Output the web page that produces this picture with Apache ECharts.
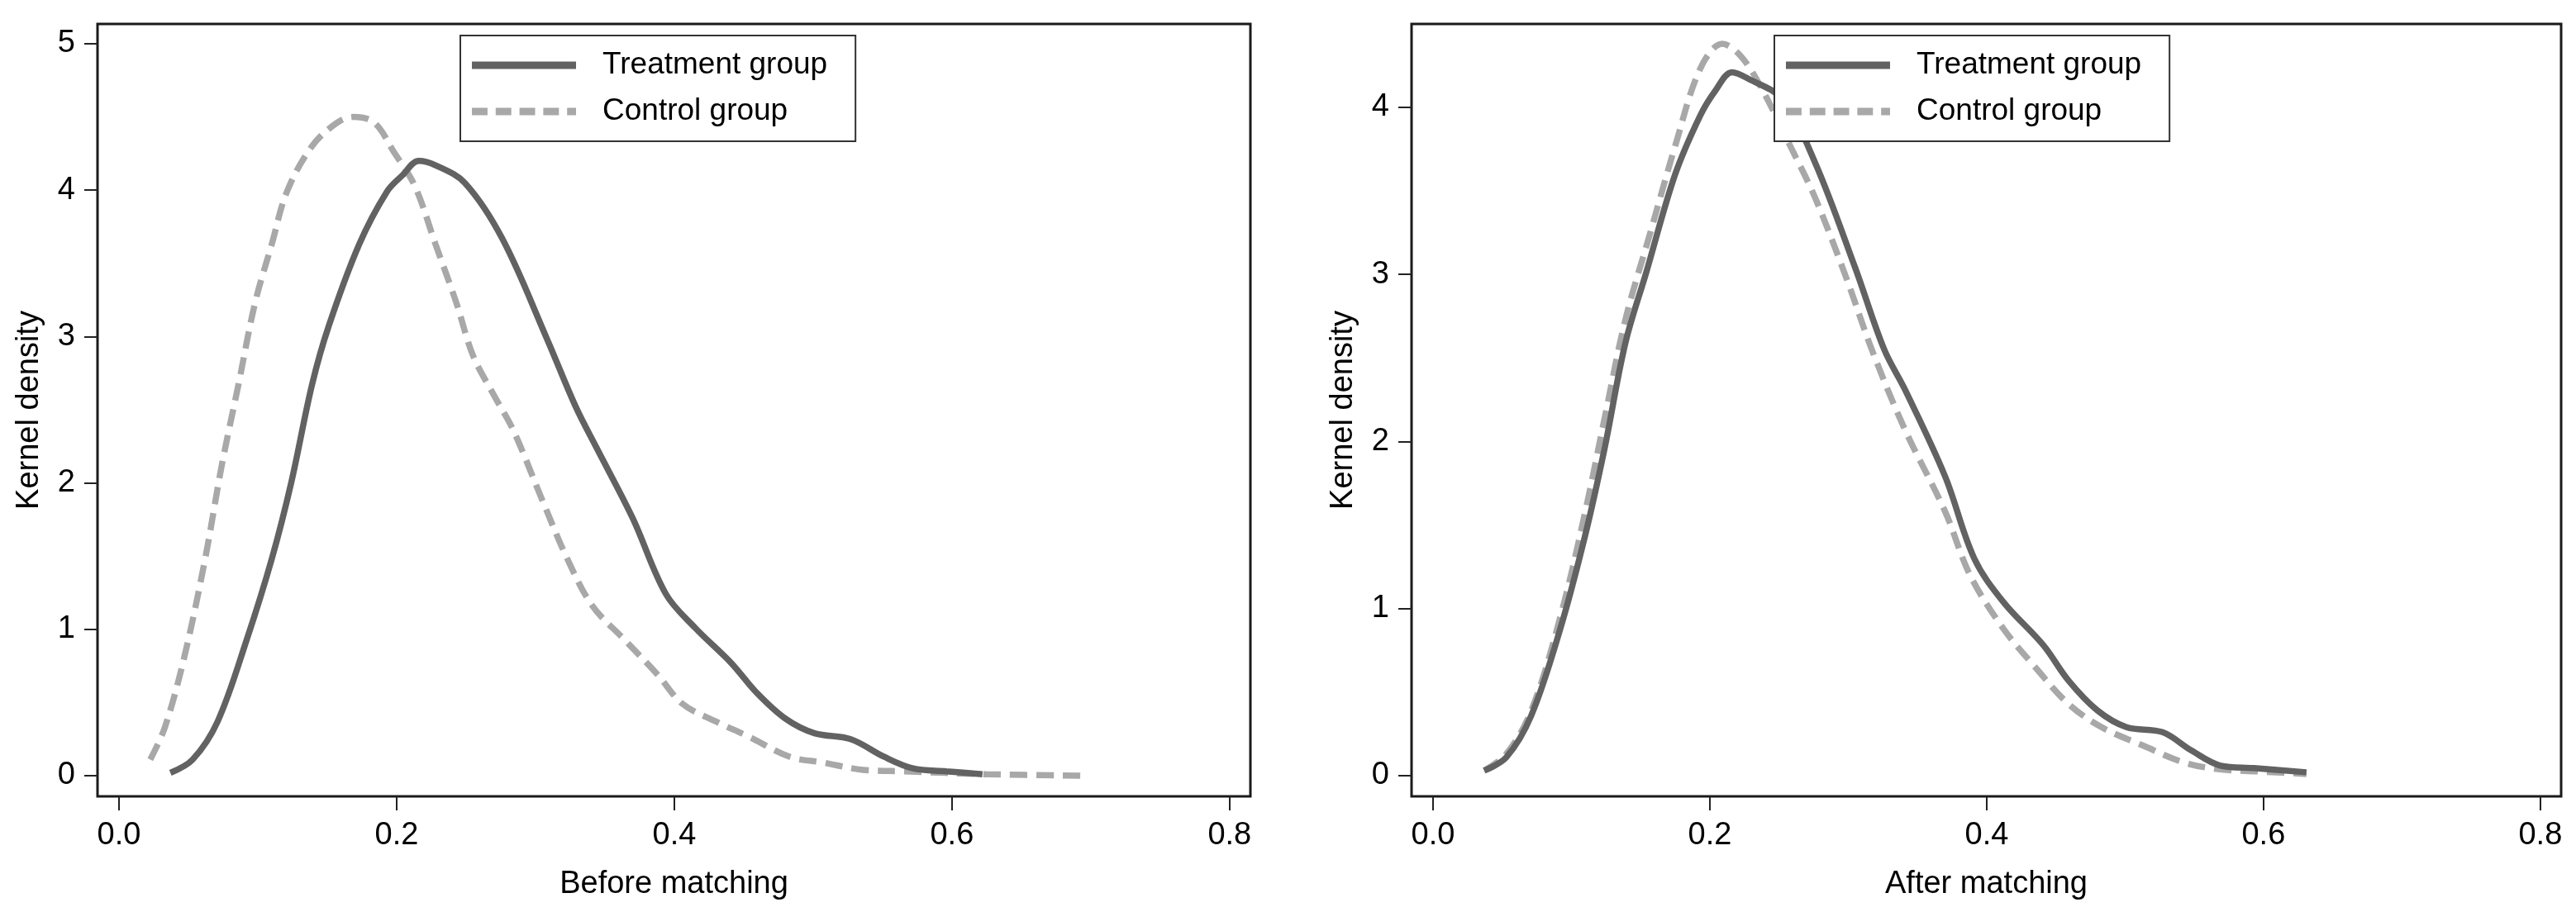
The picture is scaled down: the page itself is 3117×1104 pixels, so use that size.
<!DOCTYPE html>
<html>
<head>
<meta charset="utf-8">
<script src="https://cdn.jsdelivr.net/npm/echarts@6/dist/echarts.min.js"></script>
<style>
html,body{margin:0;padding:0;background:#fff;}
#chart{width:3117px;height:1104px;}
</style>
</head>
<body>
<div id="chart"></div>
<script>
// ---- data (x = propensity score, y = kernel density) ----
const seriesNames = ['Treatment group', 'Control group'];
const panelTitles = ['Before matching', 'After matching'];
const xTicks = [0, 0.2, 0.4, 0.6, 0.8];
const yTicksLeft = [0, 1, 2, 3, 4, 5];
const yTicksRight = [0, 1, 2, 3, 4];

const beforeTreatment = [
  [0.037,0.02],[0.053,0.11],[0.071,0.37],[0.092,0.93],[0.110,1.48],[0.124,2.00],
  [0.139,2.67],[0.151,3.07],[0.173,3.63],[0.193,3.99],[0.204,4.10],[0.216,4.20],
  [0.228,4.17],[0.249,4.05],[0.276,3.67],[0.308,2.99],[0.329,2.52],[0.344,2.24],
  [0.370,1.76],[0.394,1.24],[0.415,1.01],[0.441,0.77],[0.459,0.57],[0.480,0.39],
  [0.501,0.29],[0.527,0.25],[0.551,0.13],[0.572,0.05],[0.596,0.03],[0.622,0.01]
];
const beforeControl = [
  [0.0225,0.11],[0.033,0.33],[0.047,0.81],[0.062,1.48],[0.074,2.12],[0.086,2.67],
  [0.098,3.23],[0.110,3.63],[0.121,3.99],[0.139,4.30],[0.157,4.46],[0.169,4.50],
  [0.184,4.46],[0.198,4.26],[0.213,4.03],[0.228,3.63],[0.243,3.23],[0.255,2.87],
  [0.270,2.60],[0.284,2.36],[0.305,1.88],[0.323,1.48],[0.341,1.16],[0.364,0.93],
  [0.388,0.69],[0.406,0.49],[0.430,0.37],[0.453,0.27],[0.483,0.13],[0.507,0.09],
  [0.536,0.04],[0.566,0.03],[0.625,0.01],[0.696,0.00]
];
const afterTreatment = [
  [0.037,0.03],[0.053,0.11],[0.071,0.36],[0.092,0.88],[0.110,1.44],[0.124,1.96],
  [0.139,2.59],[0.154,3.01],[0.175,3.60],[0.193,3.95],[0.204,4.10],[0.216,4.21],
  [0.228,4.17],[0.252,4.05],[0.276,3.67],[0.305,3.04],[0.326,2.55],[0.341,2.31],
  [0.370,1.79],[0.391,1.30],[0.412,1.04],[0.441,0.78],[0.459,0.57],[0.480,0.39],
  [0.501,0.29],[0.527,0.26],[0.548,0.15],[0.569,0.06],[0.593,0.045],[0.631,0.02]
];
const afterControl = [
  [0.037,0.03],[0.053,0.13],[0.071,0.39],[0.092,0.95],[0.110,1.58],[0.124,2.14],
  [0.139,2.73],[0.157,3.25],[0.175,3.77],[0.193,4.23],[0.209,4.38],[0.222,4.31],
  [0.237,4.12],[0.258,3.77],[0.276,3.46],[0.299,2.97],[0.317,2.55],[0.341,2.07],
  [0.370,1.58],[0.388,1.20],[0.412,0.88],[0.436,0.64],[0.459,0.43],[0.483,0.29],
  [0.513,0.18],[0.542,0.08],[0.566,0.04],[0.596,0.025],[0.631,0.01]
];

// ---- styling ----
const FONT = 'Liberation Sans, Arial, sans-serif';
const treatColor = '#626262';
const ctrlColor = '#a8a8a8';
const LW = 7.5;
const solidIcon = 'path://M0,0h140v10h-140z';
const dashIcon = 'path://M0,0h21v10h-21z M32,0h21v10h-21z M64,0h21v10h-21z M96,0h21v10h-21z M128,0h12v10h-12z';

function xAxisFor(gridIndex, title) {
  return {
    type: 'value', gridIndex: gridIndex,
    min: -0.0155, max: 0.815,
    name: title, nameLocation: 'middle', nameGap: 88,
    nameTextStyle: { fontFamily: FONT, fontSize: 38, color: '#000' },
    axisLine: { show: false, onZero: false },
    splitLine: { show: false },
    axisTick: { show: true, customValues: xTicks, length: 17, inside: false,
      lineStyle: { color: '#222', width: 2 } },
    axisLabel: { show: true, customValues: xTicks, margin: 29,
      fontFamily: FONT, fontSize: 38, color: '#000',
      formatter: v => v.toFixed(1) }
  };
}
function yAxisFor(gridIndex, ticks, min, max) {
  return {
    type: 'value', gridIndex: gridIndex,
    min: min, max: max,
    name: 'Kernel density', nameLocation: 'middle', nameGap: 63,
    nameTextStyle: { fontFamily: FONT, fontSize: 38, color: '#000' },
    axisLine: { show: false, onZero: false },
    splitLine: { show: false },
    axisTick: { show: true, customValues: ticks, length: 16,
      lineStyle: { color: '#222', width: 2 } },
    axisLabel: { show: true, customValues: ticks, margin: 27,
      fontFamily: FONT, fontSize: 38, color: '#000',
      formatter: v => String(Math.round(v)) }
  };
}
function seriesFor(name, data, idx, color, dashed) {
  return {
    type: 'line', name: name, data: data,
    xAxisIndex: idx, yAxisIndex: idx,
    smooth: 0.35, symbol: 'none', showSymbol: false,
    lineStyle: { color: color, width: LW, type: dashed ? [21, 11] : 'solid', cap: 'butt' },
    itemStyle: { color: color },
    emphasis: { disabled: true },
    z: dashed ? 2 : 3
  };
}
function legendFor(left) {
  return {
    data: [
      { name: seriesNames[0], icon: solidIcon, itemStyle: { color: treatColor } },
      { name: seriesNames[1], icon: dashIcon, itemStyle: { color: ctrlColor } }
    ],
    orient: 'vertical', left: left, top: 43,
    backgroundColor: '#fff', borderColor: '#333', borderWidth: 2,
    padding: [16, 34, 16, 14],
    itemWidth: 140, itemHeight: 9, itemGap: 16,
    selectedMode: false,
    textStyle: { fontFamily: FONT, fontSize: 37, color: '#000', lineHeight: 40,
      padding: [0, 0, 0, 20] }
  };
}

const chart = echarts.init(document.getElementById('chart'), null, { renderer: 'canvas' });
chart.setOption({
  animation: false,
  backgroundColor: '#fff',
  grid: [
    { left: 118, top: 29, width: 1395, height: 935, show: true,
      borderColor: '#1a1a1a', borderWidth: 3, backgroundColor: '#fff' },
    { left: 1708, top: 29, width: 1391, height: 935, show: true,
      borderColor: '#1a1a1a', borderWidth: 3, backgroundColor: '#fff' }
  ],
  legend: [legendFor(557), legendFor(2147)],
  xAxis: [xAxisFor(0, panelTitles[0]), xAxisFor(1, panelTitles[1])],
  yAxis: [yAxisFor(0, yTicksLeft, -0.141, 5.135), yAxisFor(1, yTicksRight, -0.124, 4.499)],
  series: [
    seriesFor(seriesNames[0], beforeTreatment, 0, treatColor, false),
    seriesFor(seriesNames[1], beforeControl, 0, ctrlColor, true),
    seriesFor(seriesNames[0], afterTreatment, 1, treatColor, false),
    seriesFor(seriesNames[1], afterControl, 1, ctrlColor, true)
  ]
});
</script>
</body>
</html>
